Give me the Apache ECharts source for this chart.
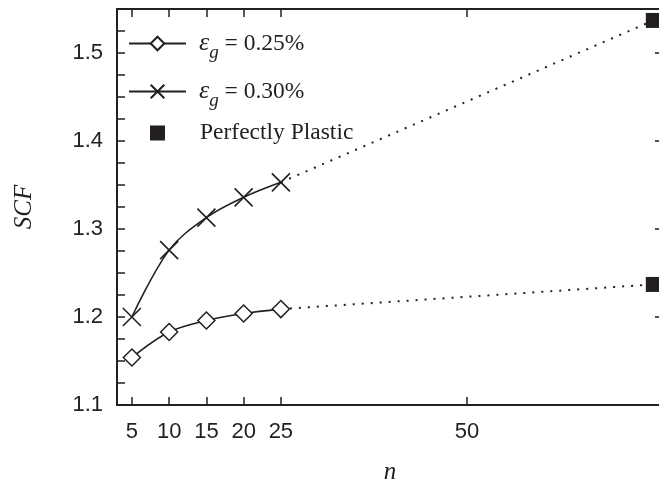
<!DOCTYPE html>
<html lang="en">
<head>
    <meta charset="UTF-8">
    <title>SCF vs n</title>
    <script src="https://cdn.jsdelivr.net/npm/echarts@6/dist/echarts.min.js"></script>
    <style>
        body, html { margin: 0; padding: 0; background: #fff; }
        #chart { width: 659px; height: 484px; }
    </style>
</head>
<body>
    <div id="chart"></div>
    <script>
        // data
        var nValues = [5, 10, 15, 20, 25];
        var scf025 = [1.154, 1.183, 1.196, 1.204, 1.209];
        var scf030 = [1.200, 1.276, 1.313, 1.336, 1.353];
        var plasticN = 75;
        var plasticScf = [1.537, 1.237];   // upper goes with 0.30%, lower with 0.25%
        var xTicks = [5, 10, 15, 20, 25, 50];

        var ink = '#231f20';
        var serif = '"Liberation Serif", "DejaVu Serif", serif';
        var sans = '"Liberation Sans", Arial, sans-serif';

        function pairs(xs, ys) {
            return xs.map(function (x, i) { return [x, ys[i]]; });
        }
        var last = nValues.length - 1;

        var crossPath = 'path://M0,0L10,10M10,0L0,10';

        var legendRich = {
            e: { fontFamily: serif, fontStyle: 'italic', fontSize: 26, color: ink, lineHeight: 32, verticalAlign: 'middle' },
            s: { fontFamily: serif, fontStyle: 'italic', fontSize: 19, color: ink, lineHeight: 32, verticalAlign: 'middle', padding: [18, 0, 0, 0] },
            t: { fontFamily: serif, fontSize: 23.5, color: ink, lineHeight: 32, verticalAlign: 'middle' }
        };
        var legendLabels = {
            'eps025': '{e|ε}{s|g}{t| = 0.25%}',
            'eps030': '{e|ε}{s|g}{t| = 0.30%}',
            'Perfectly Plastic': '{t|Perfectly Plastic}'
        };
        function makeLegend(name, left, top, w, h, pad) {
            return {
                data: [name],
                left: left,
                top: top,
                itemWidth: w,
                itemHeight: h,
                selectedMode: false,
                formatter: function (n) { return legendLabels[n]; },
                textStyle: { padding: [0, 0, 0, pad], rich: legendRich }
            };
        }

        var option = {
            animation: false,
            backgroundColor: '#fff',
            grid: { left: 117, right: -4, top: 9, bottom: 79, outerBoundsMode: 'none' },
            legend: [
                makeLegend('eps025', 123, 20, 57, 17, 8),
                makeLegend('eps030', 123, 68, 57, 17, 8),
                makeLegend('Perfectly Plastic', 145, 116, 15, 15, 30)
            ],
            xAxis: [{
                type: 'value',
                position: 'bottom',
                min: 3,
                max: 76.3,
                name: 'n',
                nameLocation: 'middle',
                nameGap: 55,
                nameTextStyle: { fontFamily: serif, fontStyle: 'italic', fontSize: 25, color: ink },
                axisLine: { lineStyle: { color: ink, width: 2 } },
                axisTick: { inside: true, length: 8, customValues: xTicks, lineStyle: { color: ink, width: 1.5 } },
                axisLabel: { customValues: xTicks, margin: 16, fontFamily: sans, fontSize: 22, color: ink },
                splitLine: { show: false }
            }, {
                type: 'value',
                position: 'top',
                min: 3,
                max: 76.3,
                axisLine: { lineStyle: { color: ink, width: 2 } },
                axisTick: { inside: true, length: 8, customValues: xTicks, lineStyle: { color: ink, width: 1.5 } },
                axisLabel: { show: false },
                splitLine: { show: false }
            }],
            yAxis: [{
                type: 'value',
                position: 'left',
                min: 1.1,
                max: 1.55,
                interval: 0.025,
                name: 'SCF',
                nameLocation: 'middle',
                nameGap: 80,
                nameTextStyle: { fontFamily: serif, fontStyle: 'italic', fontSize: 25, color: ink },
                axisLine: { lineStyle: { color: ink, width: 2 } },
                axisTick: { inside: true, length: 8, lineStyle: { color: ink, width: 1.5 } },
                axisLabel: {
                    margin: 14, fontFamily: sans, fontSize: 22, color: ink,
                    formatter: function (v) {
                        var t = v * 10;
                        if (Math.abs(t - Math.round(t)) < 1e-6 && v < 1.52) return v.toFixed(1);
                        return '';
                    }
                },
                splitLine: { show: false }
            }, {
                type: 'value',
                position: 'right',
                min: 1.1,
                max: 1.55,
                interval: 0.1,
                axisLine: { show: true, lineStyle: { color: ink, width: 2 } },
                axisTick: { inside: true, length: 8, lineStyle: { color: ink, width: 1.5 } },
                axisLabel: { show: false },
                splitLine: { show: false }
            }],
            series: [{
                name: 'eps025',
                type: 'line',
                smooth: 0.35,
                data: pairs(nValues, scf025),
                symbol: 'diamond',
                symbolSize: 17,
                lineStyle: { color: ink, width: 1.6 },
                itemStyle: { color: '#fff', borderColor: ink, borderWidth: 1.5 },
                z: 3
            }, {
                name: 'eps030',
                type: 'line',
                smooth: 0.35,
                data: pairs(nValues, scf030),
                symbol: crossPath,
                symbolSize: 18,
                lineStyle: { color: ink, width: 1.6 },
                itemStyle: { color: 'none', borderColor: ink, borderWidth: 1.6 },
                z: 3
            }, {
                name: 'dot025',
                type: 'line',
                data: [[nValues[last], scf025[last]], [plasticN, plasticScf[1]]],
                symbol: 'none',
                lineStyle: { color: ink, width: 2, type: [2, 7] },
                z: 2
            }, {
                name: 'dot030',
                type: 'line',
                data: [[nValues[last], scf030[last]], [plasticN, plasticScf[0]]],
                symbol: 'none',
                lineStyle: { color: ink, width: 2, type: [2, 7] },
                z: 2
            }, {
                name: 'Perfectly Plastic',
                type: 'scatter',
                data: plasticScf.map(function (v) { return [plasticN, v]; }),
                symbol: 'rect',
                symbolSize: 15,
                itemStyle: { color: ink, opacity: 1 },
                z: 4
            }]
        };

        var chart = echarts.init(document.getElementById('chart'));
        chart.setOption(option);
    </script>
</body>
</html>
